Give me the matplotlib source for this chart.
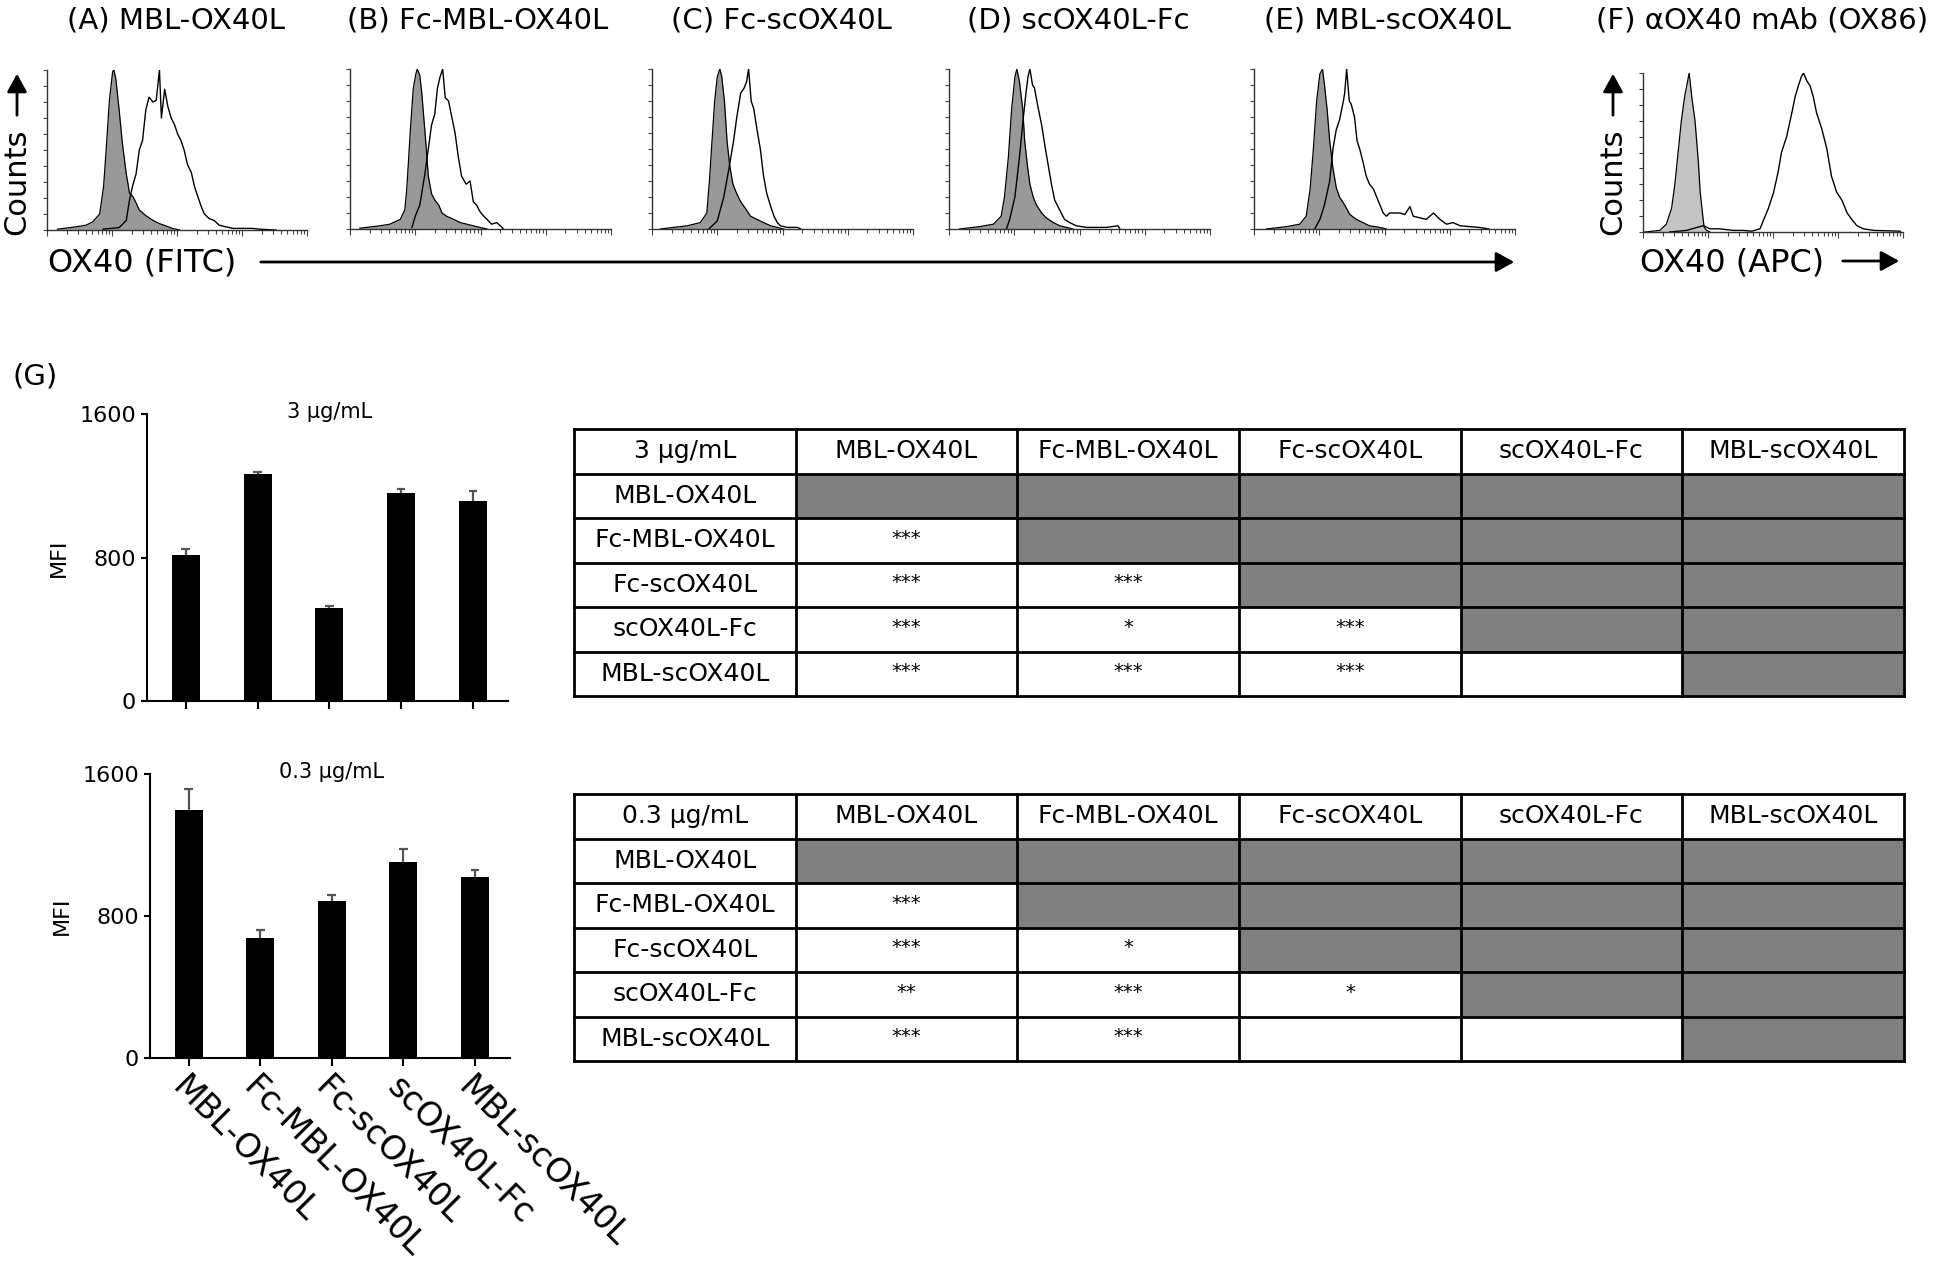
import numpy as np
import matplotlib
matplotlib.use("Agg")
import matplotlib.pyplot as plt
from matplotlib.patches import Rectangle, FancyArrowPatch

W, H = 1950, 1270
plt.rcParams['font.family'] = ['DejaVu Sans']

constructs = ['MBL-OX40L', 'Fc-MBL-OX40L', 'Fc-scOX40L', 'scOX40L-Fc', 'MBL-scOX40L']
panel_titles = ['(A) MBL-OX40L', '(B) Fc-MBL-OX40L', '(C) Fc-scOX40L',
                '(D) scOX40L-Fc', '(E) MBL-scOX40L', '(F) \u03b1OX40 mAb (OX86)']

# flow histograms: x in log10(fluorescence), y in % of mode
a_iso_x = [0.16, 0.45, 0.60, 0.70, 0.81, 0.87, 0.91, 0.96, 1.01, 1.03, 1.06, 1.11, 1.16, 1.22, 1.27, 1.32, 1.37, 1.42, 1.52, 1.63, 1.73, 1.83, 1.93, 2.04]
a_iso_y = [0.5, 2, 3, 5, 10, 27, 50, 81, 99, 100, 94, 75, 54, 35, 23, 21, 17, 12.5, 9, 6, 4, 2.5, 1, 0]
a_st_x = [0.86, 1.11, 1.22, 1.27, 1.32, 1.37, 1.42, 1.47, 1.52, 1.57, 1.63, 1.68, 1.73, 1.76, 1.81, 1.86, 1.91, 1.96, 2.01, 2.06, 2.11, 2.16, 2.22, 2.27, 2.32, 2.37, 2.42, 2.50, 2.57, 2.65, 2.75, 2.86, 3.16, 3.27, 3.52]
a_st_y = [0.5, 1.5, 6, 19, 28, 35, 50, 56, 75, 83, 80, 81, 100, 70, 88, 77, 70, 66, 60, 56, 50, 41, 36, 27, 21, 15, 10, 7, 6, 3, 2, 1, 1, 0.5, 0]

b_iso_x = [0.15, 0.46, 0.61, 0.77, 0.84, 0.87, 0.90, 0.93, 0.97, 1.01, 1.03, 1.07, 1.10, 1.13, 1.17, 1.20, 1.25, 1.30, 1.36, 1.41, 1.48, 1.59, 1.69, 1.79, 1.89, 1.99, 2.10]
b_iso_y = [0.5, 2, 3, 6, 12, 25, 45, 65, 88, 97, 100, 96, 85, 70, 50, 33, 22, 18, 15, 10, 8, 6, 4, 3, 2, 1, 0]
b_st_x = [0.95, 1.00, 1.07, 1.15, 1.20, 1.25, 1.30, 1.34, 1.38, 1.42, 1.46, 1.51, 1.56, 1.61, 1.66, 1.71, 1.78, 1.84, 1.89, 1.94, 1.99, 2.05, 2.10, 2.17, 2.25, 2.33, 2.35]
b_st_y = [1, 8, 15, 35, 50, 65, 72, 88, 95, 100, 82, 80, 70, 60, 45, 33, 28, 30, 17, 15, 11, 8, 6, 3, 4, 1, 0]

c_iso_x = [0.13, 0.33, 0.54, 0.74, 0.84, 0.88, 0.92, 0.96, 1.00, 1.04, 1.07, 1.11, 1.15, 1.19, 1.24, 1.30, 1.36, 1.43, 1.51, 1.61, 1.71, 1.82, 1.92, 2.02]
c_iso_y = [0, 1, 2, 4, 10, 30, 55, 80, 95, 100, 95, 80, 55, 40, 28, 22, 17, 13, 8, 6, 4, 2, 1, 0]
c_st_x = [0.87, 1.00, 1.10, 1.18, 1.25, 1.30, 1.36, 1.41, 1.45, 1.48, 1.52, 1.56, 1.61, 1.66, 1.71, 1.76, 1.82, 1.87, 1.92, 1.97, 2.07, 2.23, 2.28]
c_st_y = [0, 5, 20, 38, 55, 70, 85, 88, 92, 100, 80, 75, 62, 50, 33, 22, 14, 8, 4, 2, 1, 1, 0]

d_iso_x = [0.16, 0.47, 0.68, 0.80, 0.85, 0.91, 0.96, 1.01, 1.04, 1.08, 1.13, 1.16, 1.20, 1.24, 1.29, 1.34, 1.42, 1.49, 1.60, 1.70, 1.80, 1.90]
d_iso_y = [0, 1.5, 3, 8, 20, 45, 75, 95, 100, 92, 75, 55, 40, 28, 20, 15, 10, 7, 4, 2, 1, 0]
d_st_x = [0.88, 0.93, 1.01, 1.08, 1.14, 1.18, 1.21, 1.24, 1.28, 1.31, 1.37, 1.42, 1.47, 1.52, 1.57, 1.62, 1.67, 1.72, 1.77, 1.85, 1.95, 2.11, 2.41, 2.59, 2.62]
d_st_y = [0, 6, 20, 45, 70, 85, 95, 100, 90, 88, 75, 65, 52, 40, 28, 18, 14, 10, 6, 4, 2, 1, 1, 2, 0]

e_iso_x = [0.19, 0.50, 0.70, 0.80, 0.86, 0.91, 0.96, 1.01, 1.05, 1.08, 1.12, 1.16, 1.21, 1.26, 1.31, 1.39, 1.47, 1.57, 1.67, 1.77, 1.93, 2.03]
e_iso_y = [0, 1.5, 3, 8, 25, 50, 80, 97, 100, 90, 75, 55, 38, 26, 20, 15, 9, 6, 4, 2, 1, 0]
e_st_x = [0.93, 1.01, 1.08, 1.16, 1.21, 1.26, 1.31, 1.37, 1.39, 1.42, 1.46, 1.49, 1.54, 1.58, 1.62, 1.67, 1.72, 1.77, 1.83, 1.88, 1.93, 1.98, 2.03, 2.08, 2.16, 2.24, 2.31, 2.39, 2.44, 2.54, 2.64, 2.75, 2.85, 2.95, 3.05, 3.16, 3.30, 3.45, 3.60]
e_st_y = [0, 6, 15, 30, 50, 62, 68, 80, 85, 100, 80, 78, 70, 55, 50, 42, 33, 28, 25, 20, 15, 10, 8, 10, 10, 10, 9, 14, 8, 7, 6, 10, 6, 3, 4, 2, 1.5, 1, 0]

f_iso_x = [0.03, 0.26, 0.36, 0.44, 0.49, 0.54, 0.59, 0.64, 0.71, 0.75, 0.80, 0.85, 0.88, 0.92, 0.94, 0.98, 1.03]
f_iso_y = [0, 1, 5, 15, 30, 50, 70, 85, 100, 85, 70, 45, 25, 10, 3, 1, 0]
f_st_x = [0.41, 0.67, 0.93, 1.03, 1.18, 1.39, 1.54, 1.67, 1.80, 1.85, 1.93, 2.01, 2.08, 2.13, 2.21, 2.29, 2.34, 2.39, 2.44, 2.47, 2.52, 2.57, 2.62, 2.67, 2.75, 2.83, 2.90, 2.98, 3.06, 3.14, 3.21, 3.29, 3.39, 3.55, 3.96]
f_st_y = [0, 1, 4, 2, 2, 1, 1, 0.5, 2, 7, 15, 25, 38, 50, 60, 75, 85, 92, 98, 100, 95, 92, 85, 75, 65, 52, 35, 25, 20, 12, 8, 4, 2, 1, 0.5]

hists = [(a_iso_x, a_iso_y, a_st_x, a_st_y), (b_iso_x, b_iso_y, b_st_x, b_st_y),
         (c_iso_x, c_iso_y, c_st_x, c_st_y), (d_iso_x, d_iso_y, d_st_x, d_st_y),
         (e_iso_x, e_iso_y, e_st_x, e_st_y), (f_iso_x, f_iso_y, f_st_x, f_st_y)]

# MFI bar data (mean and upper error)
mfi_3 = [815, 1267, 521, 1161, 1116]
err_3 = [33, 9, 9, 19, 54]
mfi_03 = [1399, 674, 887, 1103, 1020]
err_03 = [118, 47, 30, 73, 40]

# significance, lower triangle of comparison tables
sig_3 = [[], ['***'], ['***', '***'], ['***', '*', '***'], ['***', '***', '***', '']]
sig_03 = [[], ['***'], ['***', '*'], ['**', '***', '*'], ['***', '***', '', '']]


def rect(l, t, r, b):
    return [l / W, 1 - b / H, (r - l) / W, (b - t) / H]


fig = plt.figure(figsize=(W / 100, H / 100), dpi=100)

hist_boxes = [(47, 70, 307, 230), (350, 69, 611, 229), (652, 69, 913, 229),
              (949, 69, 1210, 229), (1254, 69, 1515, 229), (1643, 73, 1903, 232)]
title_x = [176, 478, 781, 1078, 1388, 1762]

for k, box in enumerate(hist_boxes):
    ax = fig.add_axes(rect(*box))
    ix, iy, sx, sy = hists[k]
    fill_col = '#c4c4c4' if k == 5 else '#999999'
    ax.fill_between(10 ** np.array(ix), iy, color=fill_col, lw=0)
    ax.plot(10 ** np.array(ix), iy, color='k', lw=0.9)
    ax.plot(10 ** np.array(sx), sy, color='k', lw=1.0)
    ax.set_xscale('log')
    ax.set_xlim(1, 1e4)
    ax.set_ylim(0, 100)
    ax.set_yticks(np.arange(0, 101, 10))
    ax.tick_params(axis='both', which='both', labelleft=False, labelbottom=False,
                   direction='out', color='#444444', width=0.8)
    ax.tick_params(axis='y', length=3)
    ax.tick_params(axis='x', which='major', length=4)
    ax.tick_params(axis='x', which='minor', length=3)
    for s in ['top', 'right']:
        ax.spines[s].set_visible(False)
    for s in ['left', 'bottom']:
        ax.spines[s].set_color('#333333')
        ax.spines[s].set_linewidth(1)
    ax.set_facecolor('none')

# bar charts
xpos = np.arange(len(constructs))
bar_boxes = [(147, 414, 508, 701), (150, 774, 510, 1058)]
bar_sets = [(mfi_3, err_3, '3 \u00b5g/mL'), (mfi_03, err_03, '0.3 \u00b5g/mL')]
for k, box in enumerate(bar_boxes):
    ax = fig.add_axes(rect(*box))
    vals, errs, lab = bar_sets[k]
    vals = np.array(vals)
    errs = np.array(errs)
    ax.vlines(xpos, vals, vals + errs, color='#555555', lw=1.6, zorder=1)
    ax.hlines(vals + errs, xpos - 0.06, xpos + 0.06, color='#555555', lw=1.6, zorder=1)
    ax.bar(xpos, vals, width=0.39, color='k', zorder=2)
    ax.set_xlim(-0.54, 4.49)
    ax.set_ylim(0, 1600)
    ax.set_yticks([0, 800, 1600])
    ax.tick_params(axis='y', labelsize=16, length=4, width=1.5, pad=4)
    ax.set_xticks(xpos)
    ax.tick_params(axis='x', length=6, width=1.5, pad=3)
    if k == 0:
        ax.set_xticklabels([])
    else:
        ax.set_xticklabels(constructs, rotation=-45, ha='left', va='top',
                           rotation_mode='anchor', fontsize=24)
    for s in ['top', 'right']:
        ax.spines[s].set_visible(False)
    for s in ['left', 'bottom']:
        ax.spines[s].set_linewidth(1.5)
    ax.text(-0.245, 0.5, 'MFI', transform=ax.transAxes, rotation=90,
            ha='center', va='center', fontsize=16)
    ax.text(2.0, 1610, lab, ha='center', va='center', fontsize=15)


def draw_table(ax, head, sig):
    n = len(constructs) + 1
    ax.set_xlim(0, n)
    ax.set_ylim(n, 0)
    ax.axis('off')
    for j, t in enumerate([head] + constructs):
        ax.text(j + 0.5, 0.5, t, ha='center', va='center', fontsize=18)
    for i, name in enumerate(constructs):
        ax.text(0.5, i + 1.5, name, ha='center', va='center', fontsize=18)
        for j in range(len(constructs)):
            if j >= i:
                ax.add_patch(Rectangle((j + 1, i + 1), 1, 1, color='#808080', lw=0))
            elif sig[i][j]:
                ax.text(j + 1.5, i + 1.45, sig[i][j], ha='center', va='center', fontsize=14)
    for q in range(n + 1):
        ax.plot([q, q], [0, n], color='k', lw=2, clip_on=False, solid_capstyle='projecting')
        ax.plot([0, n], [q, q], color='k', lw=2, clip_on=False, solid_capstyle='projecting')


draw_table(fig.add_axes(rect(574, 429, 1904, 696)), '3 \u00b5g/mL', sig_3)
draw_table(fig.add_axes(rect(574, 794, 1904, 1061)), '0.3 \u00b5g/mL', sig_03)

# overlay for labels and arrows (pixel coordinates)
ov = fig.add_axes([0, 0, 1, 1])
ov.set_xlim(0, W)
ov.set_ylim(H, 0)
ov.axis('off')
ov.set_facecolor('none')

for t, x in zip(panel_titles, title_x):
    ov.text(x, 21, t, ha='center', va='center', fontsize=21)

for cx in [17, 1613]:
    ov.text(cx, 182, 'Counts', rotation=90, ha='center', va='center', fontsize=22)
    ov.add_patch(FancyArrowPatch((cx, 118), (cx, 71), arrowstyle='-|>,head_length=1.0,head_width=0.55',
                                 mutation_scale=11, lw=2, color='k'))

ov.text(142, 263, 'OX40 (FITC)', ha='center', va='center', fontsize=23)
ov.add_patch(FancyArrowPatch((258, 262), (1517, 262), arrowstyle='-|>,head_length=1.0,head_width=0.55',
                             mutation_scale=11, lw=2, color='k'))
ov.text(1732, 263, 'OX40 (APC)', ha='center', va='center', fontsize=23)
ov.add_patch(FancyArrowPatch((1840, 261), (1902, 261), arrowstyle='-|>,head_length=1.0,head_width=0.55',
                             mutation_scale=11, lw=2, color='k'))

ov.text(35, 376, '(G)', ha='center', va='center', fontsize=21)

fig.savefig('out.png', dpi=100)
